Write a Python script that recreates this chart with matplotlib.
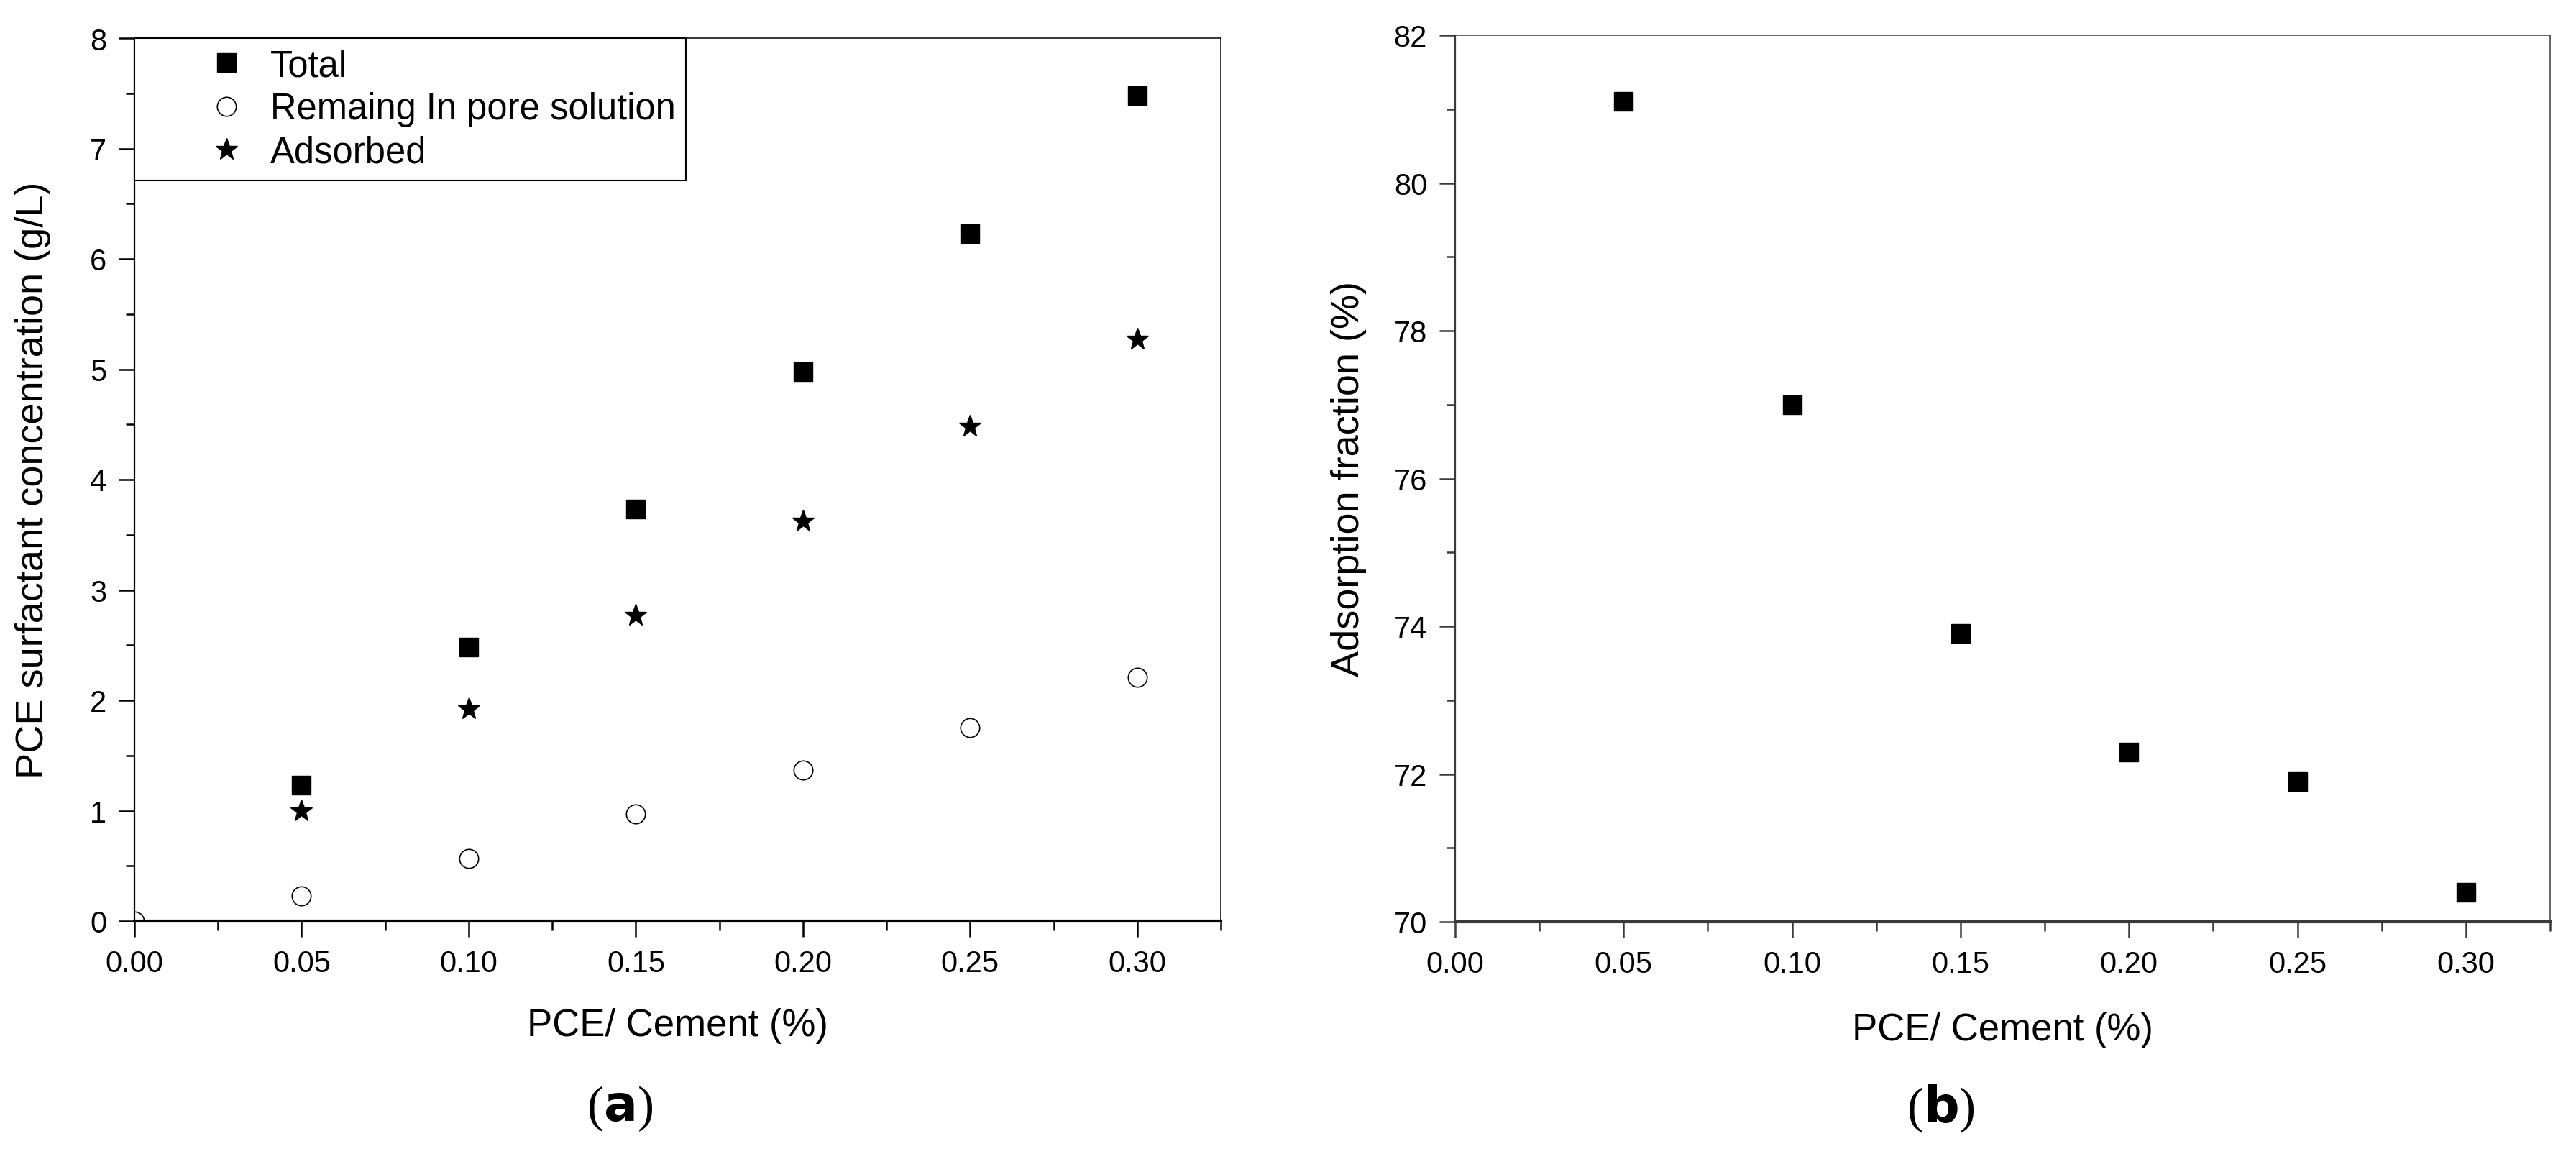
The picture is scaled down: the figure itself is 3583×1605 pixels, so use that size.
import numpy as np
import matplotlib.pyplot as plt
from matplotlib.ticker import MultipleLocator, FormatStrFormatter

plt.rcParams['font.family'] = ['Liberation Sans', 'DejaVu Sans']

# data
pce_dose = [0.05, 0.10, 0.15, 0.20, 0.25, 0.30]
total = [1.23, 2.48, 3.73, 4.98, 6.23, 7.48]
remaining_x = [0.0, 0.05, 0.10, 0.15, 0.20, 0.25, 0.30]
remaining = [0.0, 0.23, 0.57, 0.97, 1.37, 1.75, 2.21]
adsorbed = [1.00, 1.92, 2.77, 3.62, 4.48, 5.27]
adsorption_fraction = [81.1, 77.0, 73.9, 72.3, 71.9, 70.4]

W, H = 3583, 1606
fig = plt.figure(figsize=(W / 100, H / 100), dpi=100)

tick_fs = 30
xlabel_fs = 38
ylabel_fs = 39


def style_axes(ax, spine_color):
    for s in ['top', 'right']:
        ax.spines[s].set_linewidth(1.1)
        ax.spines[s].set_color(spine_color)
    ax.spines['left'].set_linewidth(1.6)
    ax.spines['left'].set_color(spine_color)
    ax.spines['bottom'].set_linewidth(3.0)
    ax.spines['bottom'].set_color(spine_color)
    ax.tick_params(which='major', direction='out', length=16, width=1.8, pad=12,
                   labelsize=tick_fs, color=spine_color)
    ax.tick_params(which='minor', direction='out', length=9, width=1.8, color=spine_color)
    ax.tick_params(top=False, right=False)
    ax.set_xlim(0, 0.325)
    ax.xaxis.set_major_locator(MultipleLocator(0.05))
    ax.xaxis.set_minor_locator(MultipleLocator(0.025))
    ax.xaxis.set_major_formatter(FormatStrFormatter('%.2f'))


# (a)
ax1 = fig.add_axes([187 / W, 1 - 1282 / H, 1511 / W, 1228 / H])
style_axes(ax1, 'black')
ax1.plot(pce_dose, total, 's', color='black', markersize=19, label='Total')
ax1.plot(remaining_x, remaining, 'o', markerfacecolor='white', markeredgecolor='black',
         markeredgewidth=1.2, markersize=19, label='Remaing In pore solution')
ax1.plot(pce_dose, adsorbed, '*', color='black', markersize=23, label='Adsorbed')
ax1.set_ylim(0, 8)
ax1.yaxis.set_major_locator(MultipleLocator(1))
ax1.yaxis.set_minor_locator(MultipleLocator(0.5))
ax1.set_xlabel('PCE/ Cement (%)', fontsize=xlabel_fs)
ax1.xaxis.set_label_coords(0.5, -0.118)
ax1.xaxis.label.set_va('center')
ax1.set_ylabel('PCE surfactant concentration (g/L)', fontsize=ylabel_fs)
ax1.yaxis.set_label_coords(-0.093, 0.5)
ax1.yaxis.label.set_va('center')
leg = ax1.legend(loc='upper left', bbox_to_anchor=(0, 1), borderaxespad=0,
                 fontsize=36.5, fancybox=False, framealpha=1, edgecolor='black',
                 handlelength=4.5, handletextpad=-1.06, labelspacing=0.22,
                 borderpad=0.28)
leg.get_frame().set_linewidth(1.5)

# (b)
ax2 = fig.add_axes([2024 / W, 1 - 1283 / H, 1523 / W, 1233 / H])
style_axes(ax2, '#3a3a3a')
ax2.plot(pce_dose, adsorption_fraction, 's', color='black', markersize=19)
ax2.set_ylim(70, 82)
ax2.yaxis.set_major_locator(MultipleLocator(2))
ax2.yaxis.set_minor_locator(MultipleLocator(1))
ax2.set_xlabel('PCE/ Cement (%)', fontsize=xlabel_fs)
ax2.xaxis.set_label_coords(0.5, -0.122)
ax2.xaxis.label.set_va('center')
ax2.set_ylabel('Adsorption fraction (%)', fontsize=ylabel_fs)
ax2.yaxis.set_label_coords(-0.097, 0.5)
ax2.yaxis.label.set_va('center')

# panel letters
for cx, letter in [(862, 'a'), (2699, 'b')]:
    fig.text(cx / W, 1 - 1542 / H, r'($\mathbf{' + letter + '}$)', fontsize=50,
             ha='center', va='center', family='Liberation Serif')

fig.savefig('out.png', dpi=100)
